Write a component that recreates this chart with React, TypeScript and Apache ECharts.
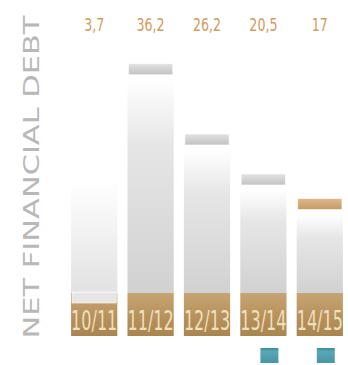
import React, { useEffect, useRef } from "react";
import * as echarts from "echarts";

const categories = ["10/11", "11/12", "12/13", "13/14", "14/15"];
const values = [3.7, 36.2, 26.2, 20.5, 17];
const valueLabels = ["3,7", "36,2", "26,2", "20,5", "17"];
const markers = [0, 0, 0, 1, 1];
const axisTitle = "NET FINANCIAL DEBT";

const NARROW = "'Liberation Sans Narrow', 'DejaVu Sans Condensed', sans-serif";

function capFill(i: number) {
  if (i === 0) return "rgba(236,242,250,0.85)";
  if (i === 4)
    return new echarts.graphic.LinearGradient(0, 0, 0, 1, [
      { offset: 0, color: "#dcb98a" },
      { offset: 1, color: "#c59a64" },
    ]);
  return new echarts.graphic.LinearGradient(0, 0, 0, 1, [
    { offset: 0, color: "#e2e2e2" },
    { offset: 1, color: "#c2c2c2" },
  ]);
}

export default function App() {
  const ref = useRef<HTMLDivElement>(null);
  useEffect(() => {
    if (!ref.current) return;
    const chart = echarts.init(ref.current, null, { renderer: "svg" });
    const renderItem = (params: any, api: any) => {
      const i = api.value(0);
      const v = api.value(1);
      const mk = api.value(2);
      const [cx, cy] = api.coord([i, v]);
      const y0 = api.coord([i, 0])[1];
      const bw = api.size([1, 0])[0] * 0.82;
      const x = cx - bw / 2;
      const boxTop = y0 - 30.5;
      const boxBottom = y0 + 12.5;
      const capTop = cy - 5.5;
      const lowBar = capTop > boxTop - 20;
      const bodyTop = lowBar ? boxTop - 110 : capTop + 16;
      const children: any[] = [
        {
          type: "rect",
          shape: { x, y: bodyTop, width: bw, height: boxTop - bodyTop },
          style: {
            fill: new echarts.graphic.LinearGradient(0, 0, 0, 1, lowBar
              ? [
                  { offset: 0, color: "#fefefe" },
                  { offset: 1, color: "#e2e2e2" },
                ]
              : [
                  { offset: 0, color: "#ffffff" },
                  { offset: 0.3, color: "#e6e6e6" },
                  { offset: 1, color: "#d2d1d1" },
                ]),
          },
        },
        {
          type: "rect",
          shape: { x, y: boxTop, width: bw, height: boxBottom - boxTop },
          style: {
            fill: new echarts.graphic.LinearGradient(0, 0, 0, 1, [
              { offset: 0, color: "#c6a473" },
              { offset: 0.5, color: "#b8935e" },
              { offset: 1, color: "#a98550" },
            ]),
          },
        },
        {
          type: "text",
          x: cx,
          y: boxTop + 28,
          scaleX: 0.66,
          style: {
            text: categories[i],
            fill: "#efdfba",
            fontSize: 27,
            fontFamily: NARROW,
            align: "center",
            verticalAlign: "middle",
          },
        },
        {
          type: "rect",
          shape: { x: x + 1, y: capTop, width: bw - 2, height: 11 },
          style: { fill: capFill(i), stroke: "rgba(255,255,255,0.6)", lineWidth: 1 },
        },
        {
          type: "text",
          x: cx,
          y: 25,
          scaleX: 0.78,
          style: {
            text: valueLabels[i],
            fill: "#d49a5c",
            fontSize: 18,
            fontFamily: NARROW,
            align: "center",
            verticalAlign: "middle",
          },
        },
      ];
      if (mk) {
        children.push({
          type: "rect",
          shape: { x: cx - 3, y: boxBottom + 12, width: 18, height: 15 },
          style: {
            fill: new echarts.graphic.LinearGradient(0, 0, 0, 1, [
              { offset: 0, color: "#3f8d9c" },
              { offset: 0.25, color: "#5aa8b6" },
              { offset: 1, color: "#4795a4" },
            ]),
          },
        });
      }
      return { type: "group", children };
    };
    chart.setOption({
      animation: false,
      backgroundColor: "#ffffff",
      grid: { left: 66, right: -6, top: 42.5, bottom: 41.5 },
      xAxis: { type: "category", data: categories, show: false },
      yAxis: { type: "value", min: 0, max: 40, show: false },
      graphic: [
        {
          type: "text",
          x: 32,
          y: 177,
          rotation: Math.PI / 2,
          scaleX: 1.45,
          style: {
            text: axisTitle,
            fill: "#b8b8b8",
            fontSize: 21,
            fontFamily: "'DejaVu Sans', sans-serif",
            align: "center",
            verticalAlign: "middle",
          },
        },
      ],
      series: [
        {
          type: "custom",
          silent: true,
          clip: false,
          renderItem,
          data: values.map((v, i) => [i, v, markers[i]]),
        },
      ],
    });
    return () => chart.dispose();
  }, []);
  return <div ref={ref} style={{ width: 348, height: 365, position: "absolute", left: 0, top: 0 }} />;
}
